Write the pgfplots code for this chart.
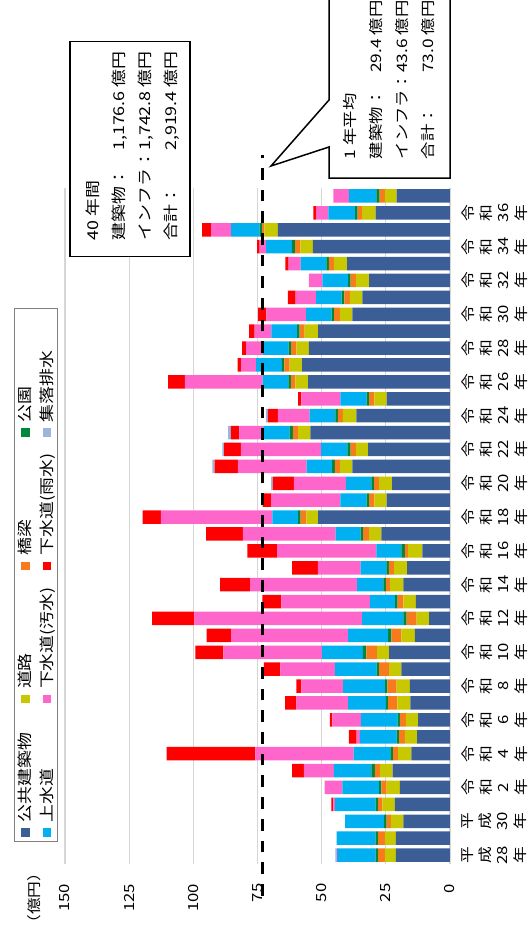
\documentclass[border=0pt]{standalone}
\usepackage{pgfplots}
\pgfplotsset{compat=1.18}
\usepackage{pgfplotstable}
\usepackage{fontspec}
\setmainfont{Noto Sans CJK JP}[FakeStretch=1.2]
\definecolor{cBuild}{HTML}{3C5E97}
\definecolor{cRoad}{HTML}{C8C800}
\definecolor{cBridge}{HTML}{F77A1C}
\definecolor{cPark}{HTML}{00873C}
\definecolor{cWater}{HTML}{00B0F0}
\definecolor{cSewer}{HTML}{FF66CC}
\definecolor{cRain}{HTML}{FF0000}
\definecolor{cRural}{HTML}{9FB4DC}
\newcommand{\sq}[1]{\textcolor{#1}{\rule[1bp]{8.5bp}{8.5bp}}\hspace{6bp}}

\pgfplotstableread{
y blue road bridge park water sewer rain rural
0 21.1 4.3 2.6 1.0 15.0 0.3 0 0.4
1 21.1 4.3 2.6 1.0 15.2 0 0 0
2 18.2 4.8 1.7 1.0 15.2 0 0 0
3 21.5 4.8 1.7 1.0 15.9 0.5 0.8 0
4 19.5 5.2 2.0 0.9 14.3 6.9 0 0
5 22.4 4.9 2.0 1.3 14.6 11.7 4.6 0
6 15.0 5.2 2.0 1.0 14.3 38.3 34.6 0
7 12.8 4.8 2.2 1.0 14.3 1.3 3.0 0
8 12.4 4.8 2.3 0.9 14.3 11.1 1.0 0
9 15.4 5.1 3.6 0.9 14.7 20.2 4.3 0
10 15.6 5.2 3.6 0.9 16.3 16.3 2.0 0
11 18.9 4.8 3.9 1.0 16.3 21.2 6.4 0
12 23.7 4.7 4.2 1.3 16.0 38.4 10.9 0
13 13.7 5.2 3.9 1.3 15.6 45.6 9.5 0
14 8.1 4.9 3.9 1.3 16.0 65.4 16.5 0
15 13.3 4.9 2.2 1.0 9.8 34.5 7.4 0
16 18.2 5.2 1.6 1.0 10.2 41.7 11.7 0
17 16.7 5.1 2.0 1.0 10.0 16.7 10.0 0
18 10.8 5.5 1.3 1.3 9.8 38.7 11.5 0
19 26.7 4.8 2.3 1.0 9.8 36.1 14.3 0
20 51.4 4.6 2.2 1.0 10.0 43.4 7.2 0
21 24.7 4.8 2.0 1.0 10.2 27.0 3.3 0
22 22.5 5.1 2.0 1.0 10.0 20.2 8.2 0.7
23 38.0 4.9 2.0 1.0 10.0 26.7 9.1 0.9
24 31.9 4.8 2.0 1.3 10.2 31.3 6.5 0.7
25 54.4 4.8 2.0 1.3 10.2 9.4 3.3 1.0
26 36.5 5.2 2.0 1.0 10.0 12.4 3.9 0.7
27 24.7 4.8 2.0 1.0 10.2 15.2 1.3 0
28 55.3 4.9 1.8 1.0 10.0 30.3 6.5 0
29 57.6 4.9 2.0 1.0 10.0 5.9 1.3 0
30 55.0 4.9 2.0 1.0 10.0 6.5 1.6 0
31 51.4 5.2 2.0 1.0 10.0 6.5 2.2 0
32 38.0 4.9 2.2 1.0 10.0 15.4 3.3 0
33 34.1 4.9 2.2 1.0 10.0 7.9 3.1 0
34 31.5 5.2 2.0 1.0 10.0 5.3 0 0
35 40.1 5.1 2.0 1.0 10.0 4.7 1.2 0
36 53.4 4.9 2.0 1.3 10.0 2.6 0.9 0
37 67.1 5.2 0.9 1.0 11.1 7.8 3.5 0
38 29.0 5.2 1.8 1.0 10.4 4.8 1.0 0
39 20.8 4.6 2.0 1.3 10.7 6.0 0 0
}\bars

\pgfplotstableread{
x y
73.0 -2.4
73.0 41.4
}\avgline

\begin{document}
\begin{tikzpicture}
\path[use as bounding box] (0,0) rectangle (531bp,-943bp);
\begin{axis}[
  at={(65bp,-863.5bp)}, anchor=south west,
  scale only axis, width=385bp, height=676bp,
  xbar stacked, bar width=13.5bp,
  xmin=0, xmax=150, ymin=-0.5, ymax=39.5,
  x dir=reverse,
  xtick={0,25,...,150},
  ytick={0,2,...,38},
  yticklabels={{平\\成\\28\\年},{平\\成\\30\\年},{令\\和\\2\\年},{令\\和\\4\\年},{令\\和\\6\\年},{令\\和\\8\\年},{令\\和\\10\\年},{令\\和\\12\\年},{令\\和\\14\\年},{令\\和\\16\\年},{令\\和\\18\\年},{令\\和\\20\\年},{令\\和\\22\\年},{令\\和\\24\\年},{令\\和\\26\\年},{令\\和\\28\\年},{令\\和\\30\\年},{令\\和\\32\\年},{令\\和\\34\\年},{令\\和\\36\\年}},
  yticklabel pos=right,
  axis line style={draw=none},
  major tick length=0pt,
  xmajorgrids, grid style={draw=black!16, line width=1.3bp},
  /pgf/number format/assume math mode=true,
  xticklabel style={rotate=90, anchor=east, inner sep=0pt, font=\fontsize{14}{15}\selectfont},
  xticklabel shift=20bp,
  yticklabel style={rotate=90, anchor=north, align=center, inner sep=0pt, font=\fontsize{14}{17.5}\selectfont},
  yticklabel shift=12bp,
  legend columns=2,
  legend plot pos=none,
  legend style={at={(-0.0755,0.4268)}, anchor=center,
    draw=black!50, line width=0.8bp, fill=white, inner sep=3.5bp,
    font=\fontsize{15}{17}\selectfont,
    nodes={rotate=90, anchor=west, text width=124bp, align=left, inner sep=0.5bp},
    column sep=6bp, row sep=8bp},
]
\addplot[fill=cBuild, draw=none, forget plot] table[x=blue, y=y] {\bars};
\addplot[fill=cRoad, draw=none, forget plot] table[x=road, y=y] {\bars};
\addplot[fill=cBridge, draw=none, forget plot] table[x=bridge, y=y] {\bars};
\addplot[fill=cPark, draw=none, forget plot] table[x=park, y=y] {\bars};
\addplot[fill=cWater, draw=none, forget plot] table[x=water, y=y] {\bars};
\addplot[fill=cSewer, draw=none, forget plot] table[x=sewer, y=y] {\bars};
\addplot[fill=cRain, draw=none, forget plot] table[x=rain, y=y] {\bars};
\addplot[fill=cRural, draw=none, forget plot] table[x=rural, y=y] {\bars};
\addlegendimage{empty legend}\addlegendentry{\sq{cPark}公園}
\addlegendimage{empty legend}\addlegendentry{\sq{cRural}集落排水}
\addlegendimage{empty legend}\addlegendentry{\sq{cBridge}橋梁}
\addlegendimage{empty legend}\addlegendentry{\sq{cRain}下水道(雨水)}
\addlegendimage{empty legend}\addlegendentry{\sq{cRoad}道路}
\addlegendimage{empty legend}\addlegendentry{\sq{cSewer}下水道(汚水)}
\addlegendimage{empty legend}\addlegendentry{\sq{cBuild}公共建築物}
\addlegendimage{empty legend}\addlegendentry{\sq{cWater}上水道}
\end{axis}
\begin{axis}[
  at={(65bp,-863.5bp)}, anchor=south west,
  scale only axis, width=385bp, height=676bp,
  xmin=0, xmax=150, ymin=-0.5, ymax=39.5,
  x dir=reverse, hide axis, clip=false]
\addplot[black, line width=3.3bp, dash pattern=on 11.7bp off 10bp] table[x=x, y=y] {\avgline};
\end{axis}
% 40-year box
\draw[line width=1.5bp, fill=white] (70bp,-41.7bp) rectangle (190bp,-256.7bp);
\node[rotate=90, anchor=center, inner sep=0pt] at (132bp,-146bp)
 {\fontsize{15}{26}\selectfont\begin{tabular*}{188bp}{@{}l@{\extracolsep{\fill}}r@{}}
  \multicolumn{2}{@{}l}{40 年間}\\
  建築物： & 1,176.6 億円\\
  インフラ： & 1,742.8 億円\\
  合計： & 2,919.4 億円
 \end{tabular*}};
% 1-year average callout
\draw[line width=1.5bp, fill=white] (329bp,6bp) -- (329bp,-100bp) -- (271bp,-166bp) -- (329bp,-147bp) -- (329bp,-178bp) -- (450bp,-178bp) -- (450bp,6bp) -- cycle;
\node[rotate=90, anchor=center, inner sep=0pt] at (389bp,-85bp)
 {\fontsize{14.5}{26}\selectfont\begin{tabular*}{148bp}{@{}l@{\extracolsep{\fill}}r@{}}
  \multicolumn{2}{@{}l}{1 年平均}\\
  建築物： & 29.4 億円\\
  インフラ： & 43.6 億円\\
  合計： & 73.0 億円
 \end{tabular*}};
\node[rotate=90, inner sep=0pt, font=\fontsize{14}{16}\selectfont] at (34bp,-898bp) {（億円）};
\end{tikzpicture}
\end{document}
